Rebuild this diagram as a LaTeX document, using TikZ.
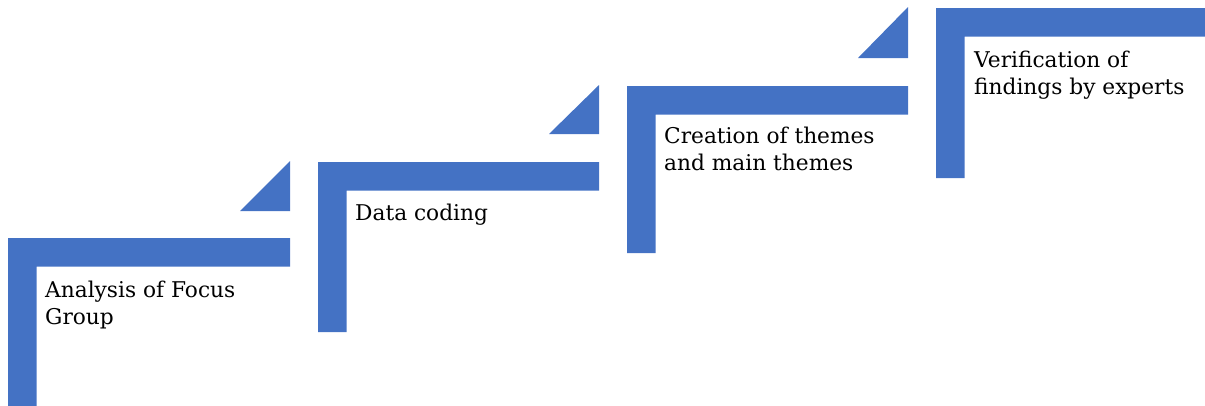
\documentclass[tikz,border=0pt]{standalone}
\usepackage{fontspec}
\setmainfont{DejaVu Serif}
\definecolor{stepblue}{HTML}{4472C4}
\tikzset{
  stepshape/.style={fill=stepblue, draw=none},
  steptri/.style={fill=stepblue, draw=none},
  steplabel/.style={anchor=base west, align=left, inner sep=0pt, text=black,
    font=\fontsize{21.7}{27.5}\selectfont}
}
\begin{document}
\begin{tikzpicture}[x=1pt,y=-1pt]
\useasboundingbox (0,0) rectangle (1205,405);
\clip (0,0) rectangle (1205,405);
% L-shaped steps: left x, top y, right x, bottom y
\foreach \l/\t/\r/\b in {8/238/290/412, 318/162/599/332, 627/86/908/253, 936/8/1210/178}{
  \fill[stepshape] (\l,\t) -- (\r,\t) -- (\r,\t+28.5) -- (\l+28.5,\t+28.5) -- (\l+28.5,\b) -- (\l,\b) -- cycle;
}
% triangles
\foreach \r/\t/\b in {290/161/211, 599/85/134, 908/7/58}{
  \fill[steptri] (\r-50,\b) -- (\r,\t) -- (\r,\b) -- cycle;
}
% anchor base of a two-line node = baseline of its last line
\node[steplabel] (s1) at (45,324.5) {Analysis of Focus\\Group};
\node[steplabel] (s2) at (355,220) {Data coding};
\node[steplabel] (s3) at (664,170.5) {Creation of themes\\and main themes};
\node[steplabel] (s4) at (974,94.5) {Verification of\\findings by experts};
\end{tikzpicture}
\end{document}
